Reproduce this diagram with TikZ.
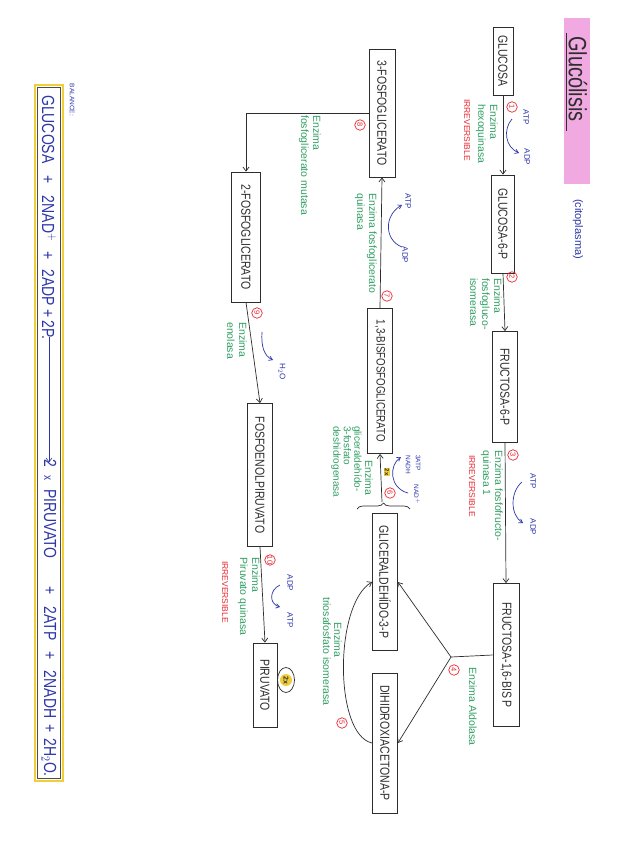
\documentclass[tikz,border=0pt]{standalone}
\usepackage{fontspec}
\setmainfont{Liberation Sans}
\usetikzlibrary{arrows.meta,decorations.pathreplacing}
\definecolor{grn}{RGB}{50,160,100}
\definecolor{redx}{RGB}{230,40,50}
\definecolor{blu}{RGB}{45,55,170}
\definecolor{pnk}{RGB}{240,170,225}
\definecolor{ylw}{RGB}{240,205,60}
\definecolor{ink}{RGB}{45,45,45}
\newcommand{\tl}[1]{\scalebox{1}[1.25]{#1}}
\begin{document}
\begin{tikzpicture}[x=1pt,y=-1pt,
 box/.style={draw=ink, line width=0.8pt, rotate=-90, inner sep=0pt, font=\fontsize{10.5}{11}\selectfont, text=ink},
 enz/.style={rotate=-90, anchor=north west, text=grn, font=\fontsize{10.5}{12}\selectfont, inner sep=0pt, align=left},
 irr/.style={rotate=-90, text=redx, font=\fontsize{8.5}{9}\selectfont, inner sep=0pt},
 num/.style={circle, draw=redx, text=redx, line width=0.7pt, inner sep=0pt, minimum size=10.5pt, font=\fontsize{7.5}{8}\selectfont, rotate=-90},
 mol/.style={rotate=-90, text=blu, font=\fontsize{8}{8}\selectfont, inner sep=0pt},
 flow/.style={draw=ink, line width=0.7pt, -{Straight Barb[length=4pt,width=6pt]}},
 cofl/.style={draw=blu, line width=0.7pt, -{Straight Barb[length=3.5pt,width=4.5pt]}},
 bal/.style={rotate=-90, text=blu, font=\fontsize{14}{15}\selectfont, inner sep=0pt},
]
\useasboundingbox (0,0) rectangle (616,848);
\fill[white] (0,0) rectangle (616,848);

% title
\fill[pnk] (564,18) rectangle (590,184);
\node[rotate=-90, font=\fontsize{20}{22}\selectfont, text=ink, inner sep=0pt] (title) at (578,79) {\tl{Glucólisis}};
\draw[ink, line width=0.8pt] (566,33) -- (566,131);
\node[mol, font=\fontsize{11}{12}\selectfont] (cito) at (578,229) {(citoplasma)};

% boxes
\node[box, minimum width=68pt, minimum height=20pt] (glc) at (503,61) {\tl{GLUCOSA}};
\node[box, minimum width=98pt, minimum height=23pt] (g6p) at (503,224) {\tl{GLUCOSA-6-P}};
\node[box, minimum width=111pt, minimum height=25pt] (f6p) at (505,387) {\tl{FRUCTOSA-6-P}};
\node[box, minimum width=143pt, minimum height=26pt] (fbp) at (506,655) {\tl{FRUCTOSA-1,6-BIS P}};
\node[box, minimum width=137pt, minimum height=25pt] (g3p) at (385,582) {\tl{GLICERALDEHÍDO-3-P}};
\node[box, minimum width=140pt, minimum height=25pt] (dhap) at (385,743) {\tl{DIHIDROXIACETONA-P}};
\node[box, minimum width=145pt, minimum height=25pt, font=\fontsize{9.8}{10}\selectfont] (bpg) at (380,381) {\tl{1,3-BISFOSFOGLICERATO}};
\node[box, minimum width=128pt, minimum height=26pt] (pg3) at (382,113) {\tl{3-FOSFOGLICERATO}};
\node[box, minimum width=130pt, minimum height=29pt] (pg2) at (246,237) {\tl{2-FOSFOGLICERATO}};
\node[box, minimum width=143pt, minimum height=25pt] (pep) at (260,475) {\tl{FOSFOENOLPIRUVATO}};
\node[box, minimum width=84pt, minimum height=24pt] (pyr) at (265,685) {\tl{PIRUVATO}};

% main arrows
\draw[flow] (glc.east) -- (g6p.west);
\draw[flow] (g6p.east) -- (f6p.west);
\draw[flow] (f6p.east) -- (fbp.west);
\coordinate (j4) at (451,657);
\draw[ink, line width=0.7pt] (fbp.south) -- (j4);
\draw[flow] (j4) -- (g3p.north);
\draw[flow] (j4) -- (dhap.north);
\draw[flow] (dhap.south) .. controls (334,735) and (334,604) .. (g3p.south);
\draw[decorate, decoration={brace, amplitude=6pt}, ink, line width=0.7pt] (357,509) -- (410,509);
\coordinate (br) at (382,502);
\draw[flow] (br) -- (bpg.east);
\draw[flow] (bpg.west) -- (pg3.east);
\draw[flow] (pg3.south) -| (pg2.west);
\draw[flow] (pg2.east) -- (pep.west);
\draw[flow] (pep.east) -- (pyr.west);

% step numbers
\node[num] (n1) at (512,107) {1};
\node[num] (n2) at (512,277) {2};
\node[num] (n3) at (513,455) {3};
\node[num] (n4) at (454,670) {4};
\node[num] (n5) at (342,723) {5};
\node[num] (n6) at (390,493) {6};
\node[num] (n7) at (387,296) {7};
\node[num] (n8) at (360,125) {8};
\node[num] (n9) at (257,313) {9};
\node[num] (n10) at (270,560) {10};

% enzymes
\node[enz] (e1) at (498,104) {Enzima\\hexoquinasa};
\node[enz] (e2) at (502,278) {Enzima\\fosfogluco-\\isomerasa};
\node[enz] (e3) at (503,450) {Enzima fosfofructo-\\quinasa 1};
\node[enz] (e4) at (477,667) {Enzima Aldolasa};
\node[enz] (e5a) at (342,622) {Enzima};
\node[enz] (e5b) at (331,597) {triosafosfato isomerasa};
\node[enz] (e6a) at (373,460) {Enzima};
\node[enz, font=\fontsize{10}{10.5}\selectfont] (e6b) at (362,426) {gliceraldehído-\\3-fosfato\\deshidrogenasa};
\node[enz] (e7) at (377,193) {Enzima fosfoglicerato\\quinasa};
\node[enz] (e8) at (321,115) {Enzima\\fosfoglicerato mutasa};
\node[enz] (e9) at (247,322) {Enzima\\enolasa};
\node[enz] (e10) at (260,557) {Enzima\\Piruvato quinasa};

% irreversible
\node[irr] (i1) at (467,130) {IRREVERSIBLE};
\node[irr] (i3) at (472,486) {IRREVERSIBLE};
\node[irr] (i10) at (225,592) {IRREVERSIBLE};

% cofactors
\node[mol] (atp1) at (526,117) {ATP};
\node[mol] (adp1) at (527,157) {ADP};
\draw[cofl] (512,119) .. controls (503,129) and (505,147) .. (519,153);
\node[mol] (atp3) at (533,481) {ATP};
\node[mol] (adp3) at (533,527) {ADP};
\draw[cofl] (522,482) .. controls (510,492) and (510,515) .. (523,523);
\node[mol] (atp7) at (408,201) {ATP};
\node[mol] (adp7) at (405,255) {ADP};
\draw[cofl] (402,247) .. controls (384,240) and (384,215) .. (402,205);
\node[mol, font=\fontsize{6.5}{7}\selectfont] (atp6) at (418,463) {3ATP};
\node[mol, font=\fontsize{6.5}{7}\selectfont] (nadh6) at (408,465) {NADH};
\node[mol, font=\fontsize{6.5}{7}\selectfont] (nad6) at (417,494) {NAD$^{+}$};
\draw[cofl] (408,493) .. controls (389,488) and (389,465) .. (401,457);
\node[mol] (h2o9) at (282,372) {H$_2$O};
\draw[cofl] (262,332) .. controls (261,346) and (264,356) .. (273,360);
\node[mol] (adp10) at (290,583) {ADP};
\node[mol] (atp10) at (290,620) {ATP};
\draw[cofl] (280,585) .. controls (269,590) and (269,604) .. (280,607);

% 2x marks
\node[rotate=-90, fill=ylw, font=\fontsize{6}{6}\selectfont\bfseries, inner sep=1pt, text=ink] (dx6) at (387,472) {2x};
\node[rotate=-90, circle, fill=ylw, inner sep=0.5pt, minimum size=12pt, font=\fontsize{7}{7}\selectfont\bfseries, text=ink] (dx11) at (286,680) {2x};
\draw[ink, line width=0.7pt] (dx11.center) ellipse [x radius=8.5, y radius=12.5];

% balance
\node[rotate=-90, text=blu, font=\fontsize{6.5}{7}\selectfont, inner sep=0pt] (balt) at (72,100) {BALANCE:};
\draw[ylw, line width=1.4pt] (35,85) rectangle (63,781);
\draw[ink!80!ylw, line width=0.6pt] (37.5,87.5) rectangle (60.5,778.5);
\node[bal, anchor=west] (lhs) at (49,95) {\tl{GLUCOSA\hspace{12pt}+\hspace{12pt}2NAD$^{+}$\hspace{10pt}+\hspace{10pt}2ADP\hspace{3pt}+\hspace{3pt}2P.}};
\node[bal, anchor=east] (rhs) at (49,777) {\tl{2\hspace{8pt}{\fontsize{10}{10}\selectfont x}\hspace{9pt}PIRUVATO\hspace{28pt}+\hspace{12pt}2ATP\hspace{11pt}+\hspace{11pt}2NADH\hspace{6pt}+\hspace{6pt}2H$_2$O.}};
\draw[blu, line width=0.6pt, -{Straight Barb[length=4pt,width=6pt]}] ([yshift=3pt]lhs.east) -- ([yshift=-3pt]rhs.west);
\end{tikzpicture}
\end{document}
